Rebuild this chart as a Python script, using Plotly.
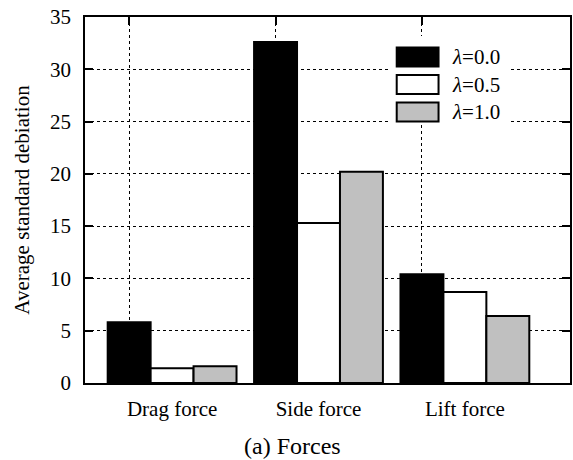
import plotly.graph_objects as go

categories = ["Drag force", "Side force", "Lift force"]
series_names = ["λ=0.0", "λ=0.5", "λ=1.0"]
lam0 = [5.8, 32.6, 10.4]
lam5 = [1.4, 15.3, 8.7]
lam10 = [1.6, 20.2, 6.4]
y_ticks = [0, 5, 10, 15, 20, 25, 30, 35]

colors = ["#000000", "#ffffff", "#c0c0c0"]
FONT = "Times New Roman, Liberation Serif, serif"

W, H = 573, 460
L, R, T, B = 85, 1, 17, 77
PW, PH = W - L - R, H - T - B

x_idx = list(range(len(categories)))
bargap = 0.12
bw = (1 - bargap) / 3
first_bar = [i - bw for i in x_idx]
xr = [-0.595, 2.718]

fig = go.Figure()
for name, vals, c in zip(series_names, [lam0, lam5, lam10], colors):
    fig.add_trace(go.Bar(x=x_idx, y=vals, name=name, marker=dict(color=c, line=dict(color="black", width=2)),
                         showlegend=False))
# invisible helper so the category-label axis is drawn
fig.add_trace(go.Scatter(x=x_idx, y=[0] * len(x_idx), xaxis="x2", mode="markers",
                         marker=dict(opacity=0), hoverinfo="skip", showlegend=False))

fig.update_layout(
    width=W, height=H, margin=dict(l=L, r=R, t=T, b=B),
    plot_bgcolor="white", paper_bgcolor="white",
    barmode="group", bargap=bargap, bargroupgap=0,
    font=dict(family=FONT, size=21, color="black"),
    xaxis=dict(range=xr, tickvals=first_bar, ticktext=["", "", ""], showgrid=True,
               gridcolor="black", griddash="dot", gridwidth=1,
               ticks="inside", ticklen=8, tickwidth=1.5, tickcolor="black",
               showline=True, linecolor="black", linewidth=1.5, mirror="ticks", zeroline=False),
    xaxis2=dict(range=xr, overlaying="x", side="bottom", tickvals=x_idx, ticktext=categories,
                showgrid=False, showline=False, ticks="", zeroline=False,
                tickfont=dict(family=FONT, size=21), ticklabelstandoff=11),
    yaxis=dict(range=[0, 35], tickvals=y_ticks, showgrid=True, gridcolor="black", griddash="dot",
               gridwidth=1, ticks="inside", ticklen=8, tickwidth=1.5, tickcolor="black",
               showline=True, linecolor="black", linewidth=1.5, mirror="ticks", zeroline=False,
               tickfont=dict(family=FONT, size=21), ticklabelstandoff=8,
               title=dict(text="Average standard debiation", font=dict(family=FONT, size=21), standoff=15)),
)

def px(xp):
    return (xp - L) / PW

def py(yp):
    return (H - B - yp) / PH

shapes = [dict(type="rect", xref="paper", yref="paper", x0=px(390), x1=px(512), y0=py(124), y1=py(36),
               fillcolor="white", line=dict(width=0), layer="above")]
annots = []
for k, (name, c) in enumerate(zip(series_names, colors)):
    cy = 57 + k * 27.5
    shapes.append(dict(type="rect", xref="paper", yref="paper", x0=px(398), x1=px(440),
                       y0=py(cy + 9.5), y1=py(cy - 9.5), fillcolor=c,
                       line=dict(color="black", width=2), layer="above"))
    annots.append(dict(xref="paper", yref="paper", x=px(452), y=py(cy), xanchor="left", yanchor="middle",
                       text="<i>λ</i>" + name[1:], showarrow=False, font=dict(family=FONT, size=21)))
annots.append(dict(xref="paper", yref="paper", x=px(293), y=py(446), xanchor="center", yanchor="middle",
                   text="(a) Forces", showarrow=False, font=dict(family=FONT, size=24)))
fig.update_layout(shapes=shapes, annotations=annots)

fig.write_html("out.html")
